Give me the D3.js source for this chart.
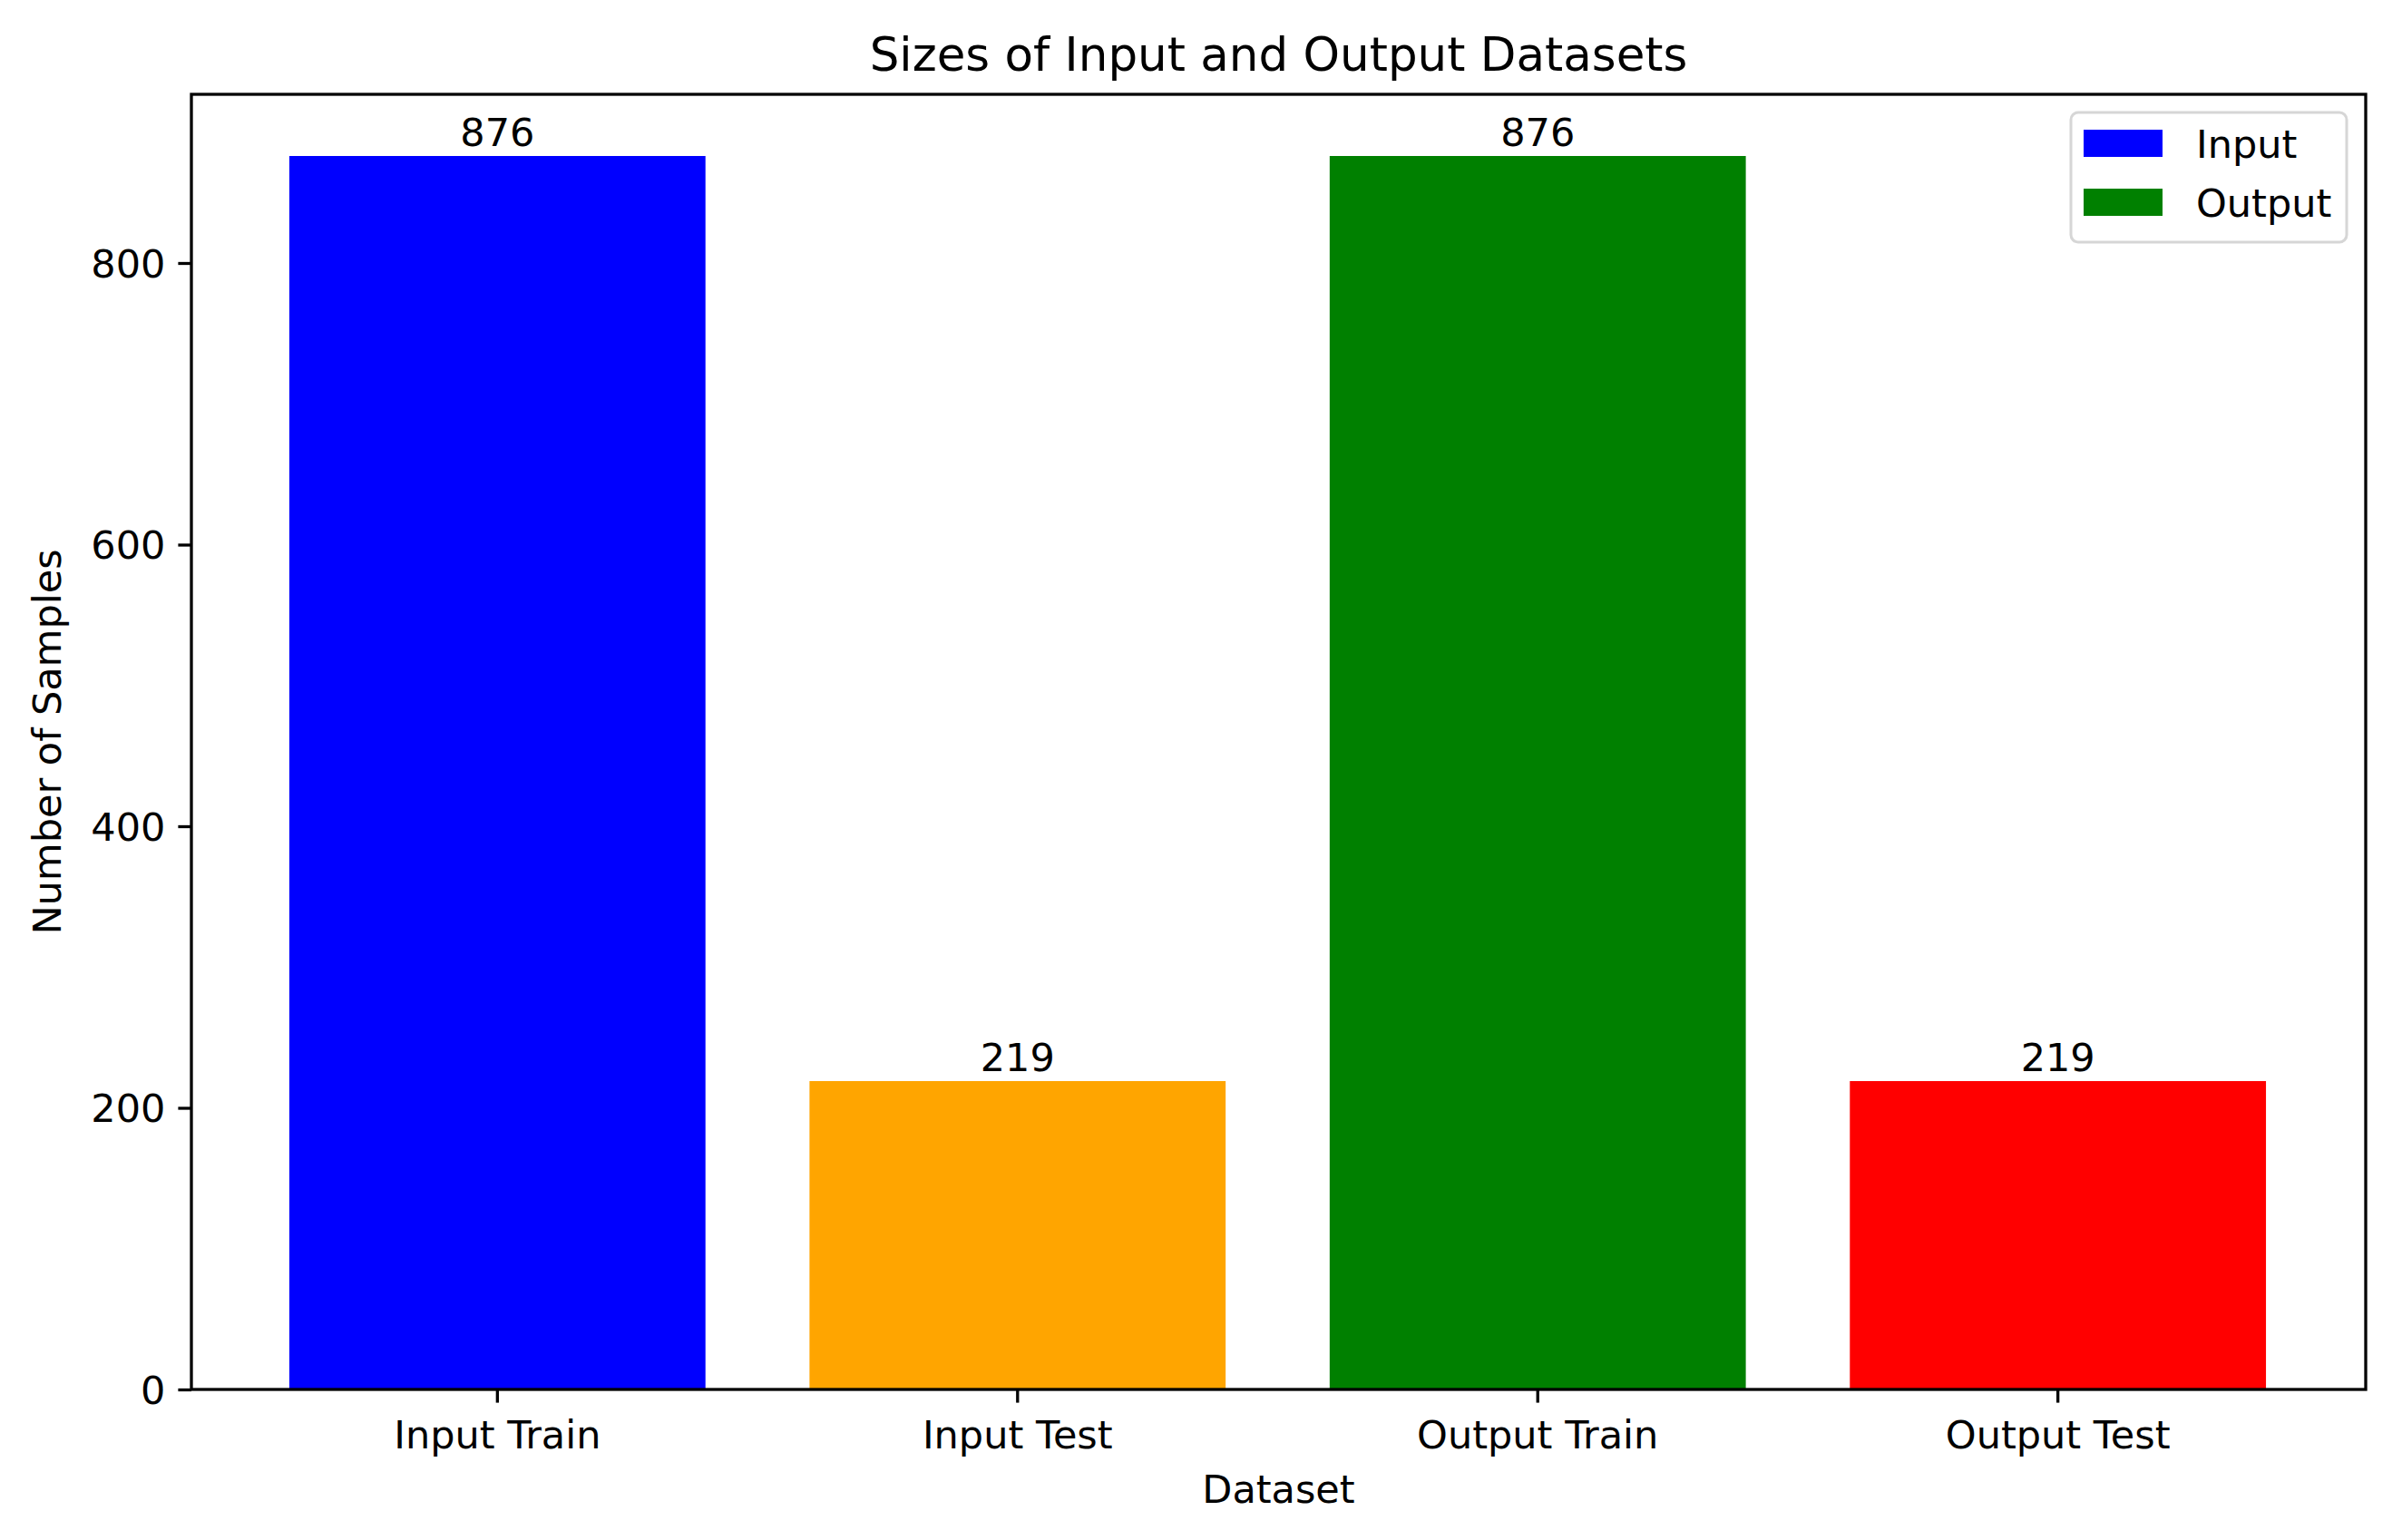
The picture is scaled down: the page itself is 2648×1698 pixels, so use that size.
<!DOCTYPE html>
<html>
<head>
<meta charset="utf-8">
<script src="https://cdn.jsdelivr.net/npm/d3@7"></script>
<style>
  html, body { margin: 0; padding: 0; background: #ffffff; }
  svg { display: block; }
  text { font-family: "DejaVu Sans", sans-serif; fill: #000; }
</style>
</head>
<body>
<svg id="chart" width="2648" height="1698"></svg>
<script>
// ---- data ----
const categories = ["Input Train", "Input Test", "Output Train", "Output Test"];
const sampleCounts = [876, 219, 876, 219];
const barColors = ["#0000ff", "#ffa500", "#008000", "#ff0000"];
const yTickValues = [0, 200, 400, 600, 800];
const legendLabels = ["Input", "Output"];
const legendColors = ["#0000ff", "#008000"];
const titleText = "Sizes of Input and Output Datasets";
const xLabelText = "Dataset";
const yLabelText = "Number of Samples";

// ---- layout ----
const W = 2648, H = 1698;
const plot = { left: 211, right: 2608, top: 104, bottom: 1532 };
const tickFont = 43, titleFont = 51.5;
const lw = 3.3, tickLen = 14.6;

const svg = d3.select("#chart");
svg.append("rect").attr("width", W).attr("height", H).attr("fill", "#fff");

const x = d3.scaleBand()
  .domain(categories)
  .range([plot.left, plot.right])
  .paddingInner(0.2)
  .paddingOuter(0.19);

const yMax = d3.max(sampleCounts) * 1.05;
const y = d3.scaleLinear().domain([0, yMax]).range([plot.bottom, plot.top]);

// bars
svg.append("g").selectAll("rect")
  .data(categories)
  .join("rect")
  .attr("x", d => x(d) - 1)
  .attr("width", x.bandwidth())
  .attr("y", (d, i) => y(sampleCounts[i]))
  .attr("height", (d, i) => y(0) - y(sampleCounts[i]))
  .attr("fill", (d, i) => barColors[i]);

// bar labels
svg.append("g").selectAll("text")
  .data(categories)
  .join("text")
  .attr("x", d => x(d) + x.bandwidth() / 2 - 1)
  .attr("y", (d, i) => y(sampleCounts[i]) - 11)
  .attr("text-anchor", "middle")
  .attr("font-size", tickFont)
  .text((d, i) => sampleCounts[i]);

// axes
const xAxis = d3.axisBottom(x).tickSizeOuter(0).tickSize(tickLen).tickPadding(13);
const gx = svg.append("g").attr("transform", `translate(-1,${plot.bottom})`).call(xAxis);
const yAxis = d3.axisLeft(y).tickValues(yTickValues).tickSizeOuter(0).tickSize(tickLen).tickPadding(14);
const gy = svg.append("g").attr("transform", `translate(${plot.left},0)`).call(yAxis);

[gx, gy].forEach(g => {
  g.select(".domain").remove();
  g.selectAll(".tick line").attr("stroke", "#000").attr("stroke-width", lw);
  g.selectAll(".tick text")
    .attr("font-family", "DejaVu Sans, sans-serif")
    .attr("font-size", tickFont)
    .attr("fill", "#000");
});
gx.selectAll(".tick text")
  .each(function() { d3.select(this).attr("y", 1597 - plot.bottom).attr("dy", 0); });
gy.selectAll(".tick text").attr("dy", "0.36em");

// frame (spines)
svg.append("rect")
  .attr("x", plot.left).attr("y", plot.top)
  .attr("width", plot.right - plot.left).attr("height", plot.bottom - plot.top)
  .attr("fill", "none").attr("stroke", "#000").attr("stroke-width", lw);

// title
svg.append("text")
  .attr("x", (plot.left + plot.right) / 2).attr("y", 78)
  .attr("text-anchor", "middle").attr("font-size", titleFont)
  .text(titleText);

// x label
svg.append("text")
  .attr("x", (plot.left + plot.right) / 2).attr("y", 1657)
  .attr("text-anchor", "middle").attr("font-size", tickFont)
  .text(xLabelText);

// y label
svg.append("text")
  .attr("transform", `translate(67,${(plot.top + plot.bottom) / 2}) rotate(-90)`)
  .attr("text-anchor", "middle").attr("font-size", tickFont)
  .text(yLabelText);

// legend
const lg = svg.append("g");
lg.append("rect")
  .attr("x", 2283).attr("y", 124).attr("width", 2587 - 2283).attr("height", 267 - 124)
  .attr("rx", 8).attr("ry", 8)
  .attr("fill", "#fff").attr("fill-opacity", 0.8)
  .attr("stroke", "#d6d6d6").attr("stroke-width", 3);
const rowY = d3.scalePoint().domain(legendLabels).range([143, 208]);
lg.selectAll("rect.sw").data(legendLabels).join("rect")
  .attr("class", "sw")
  .attr("x", 2297).attr("y", d => rowY(d))
  .attr("width", 87).attr("height", 30)
  .attr("fill", (d, i) => legendColors[i]);
lg.selectAll("text").data(legendLabels).join("text")
  .attr("x", 2421).attr("y", d => rowY(d) + 31)
  .attr("font-size", tickFont)
  .text(d => d);
</script>
</body>
</html>
